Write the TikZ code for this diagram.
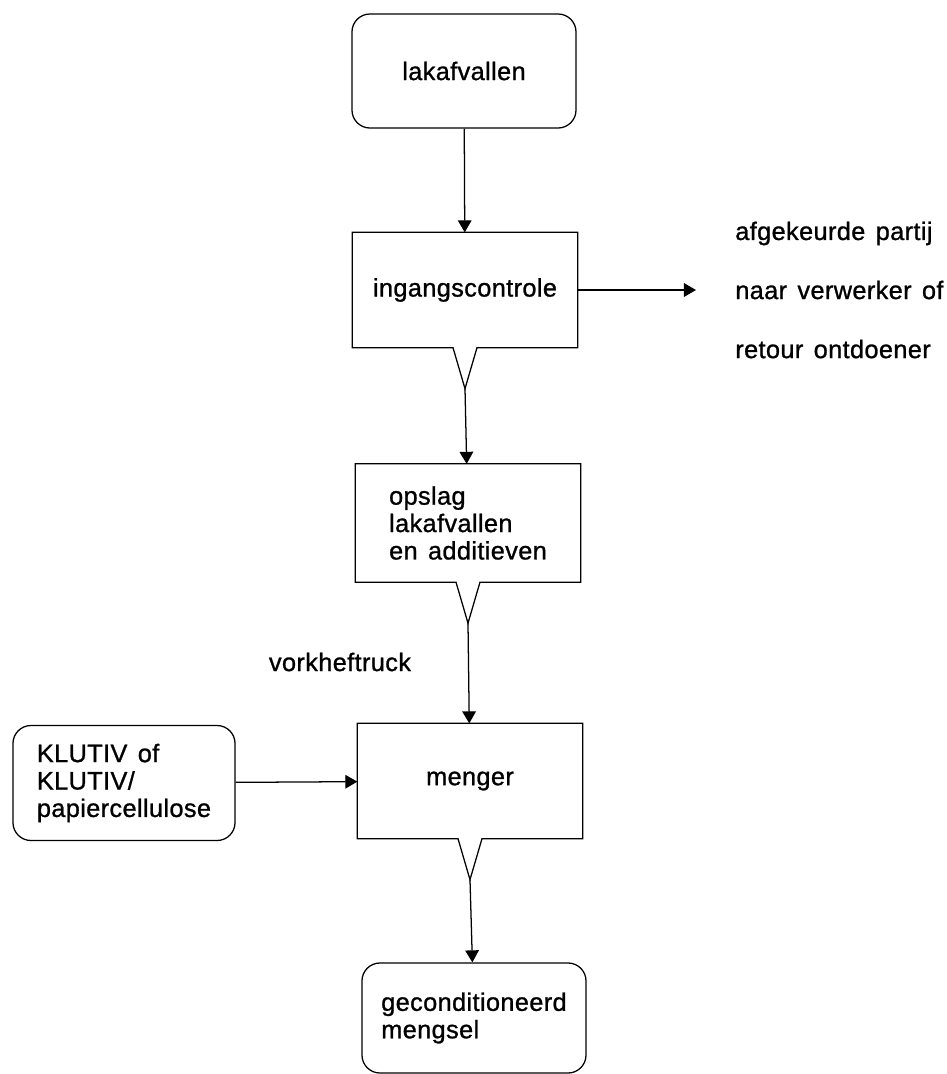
\documentclass[tikz,border=0pt]{standalone}
\usepackage{fontspec}
\setmainfont{Liberation Sans}[LetterSpace=1.5, WordSpace=1.4, FakeBold=1]
\usetikzlibrary{positioning, arrows.meta}

\begin{document}
\begin{tikzpicture}[
    x=0.025cm, y=-0.025cm,
    font=\fontsize{18}{19.5}\selectfont,
    line width=0.9pt,
    box/.style={
        draw, align=left, inner sep=3pt,
        minimum width=5.6cm, minimum height=2.85cm
      },
    endbox/.style={box, rounded corners=0.45cm},
    stepbox/.style={
        align=left, inner sep=3pt,
        minimum width=5.6cm, minimum height=2.85cm
      },
    flow/.style={-{Triangle[length=0.3cm, width=0.34cm]}},
    note/.style={align=left}
  ]
  \useasboundingbox (0,0) rectangle (947,1074);

  \node[endbox] (lak) at (464,71) {lakafvallen};
  \node[stepbox] (ing) at (465,290) {ingangscontrole};
  \node[stepbox, minimum height=2.925cm] (ops) at (468,523) {opslag\\lakafvallen\\en additieven};
  \node[stepbox] (men) at (470,781) {menger};
  \node[endbox, minimum height=2.75cm] (geco) at (474,1018) {geconditioneerd\\mengsel};
  \node[endbox, minimum width=5.55cm, minimum height=2.875cm] (klu) at (124,783) {KLUTIV of\\KLUTIV/\\papiercellulose};

  \node[note, anchor=west, font=\fontsize{18}{42}\selectfont] (afk) at (730,290)
  {afgekeurde partij\\naar verwerker of\\retour ontdoener};
  \node[note] (truck) at (340,662) {vorkheftruck};

  % box outline with a V outlet at the bottom
  \foreach \b in {ing,ops,men} {
    \coordinate (\b-tip) at ([yshift=-1.025cm]\b.south);
    \draw (\b.south west) -- ([xshift=-0.3cm]\b.south) -- (\b-tip)
      -- ([xshift=0.3cm]\b.south) -- (\b.south east) -- (\b.north east)
      -- (\b.north west) -- cycle;
  }

  \draw[flow] (lak) -- (ing);
  \draw[flow] (ing-tip) -- (ops);
  \draw[flow] (ops-tip) -- (men);
  \draw[flow] (men-tip) -- (geco);
  \draw[flow, shorten >=0.85cm] (ing) -- (afk);
  \draw[flow] (klu) -- (men);

\end{tikzpicture}
\end{document}
